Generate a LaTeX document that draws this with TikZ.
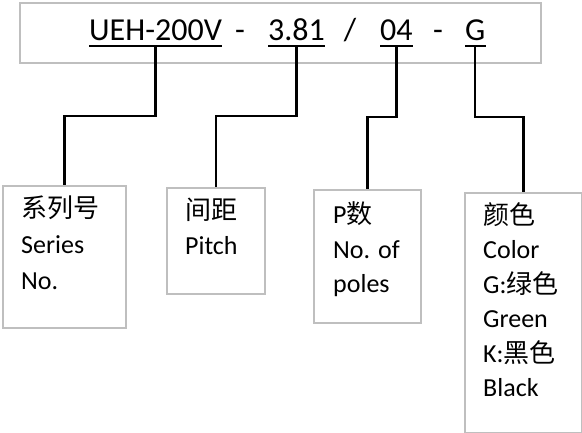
\documentclass[tikz,border=0pt]{standalone}
\usepackage{fontspec}
\setmainfont{Carlito}
\newfontfamily\cjk{Noto Sans CJK SC}
\usepackage{tikz}
\definecolor{boxgray}{HTML}{BFBFBF}
\tikzset{
	codebox/.style={draw=boxgray, line width=1.8pt, rectangle, inner sep=0pt, anchor=north west},
	codepart/.style={inner xsep=0pt, inner ysep=5pt, text depth=0pt, anchor=base west, font=\fontsize{32}{38}\selectfont},
	codesep/.style={inner sep=0pt, anchor=base, font=\fontsize{32}{38}\selectfont},
	boxtext/.style={inner sep=0pt, anchor=base west, font=\fontsize{26}{34.5}\selectfont},
	connector/.style={line width=2.2pt},
	uline/.style={line width=2pt}
}

\begin{document}
\begin{tikzpicture}[x=1pt, y=-1pt]
			%%%%% START %%%%%
			\useasboundingbox (0, 0) rectangle (582, 433);
			
			\node[codebox, minimum width=521pt, minimum height=60pt] (code) at (19, 2) {};
			
			\node[codepart] (ueh) at (89, 41) {UEH-200V};
			\node[codesep] (dasha) at (240, 41) {-};
			\node[codepart] (pitchno) at (268, 41) {3.81};
			\node[codesep] (slash) at (350, 41) {/};
			\node[codepart] (polesno) at (380, 41) {04};
			\node[codesep] (dashb) at (438, 41) {-};
			\node[codepart] (colorno) at (465, 41) {G};
			
			\foreach \p in {ueh, pitchno, polesno, colorno}
				\draw[uline] (\p.south west) -- (\p.south east);
			
			\node[codebox, minimum width=123pt, minimum height=142pt] (seriesbox) at (2, 185) {};
			\node[codebox, minimum width=98pt, minimum height=106pt] (pitchbox) at (166, 187) {};
			\node[codebox, minimum width=107pt, minimum height=133pt] (polesbox) at (313, 189) {};
			\node[codebox, minimum width=117pt, minimum height=240pt] (colorbox) at (464, 192) {};
			
			\node[boxtext, font=\fontsize{26}{36}\selectfont] (seriestext) at (21, 218)
				{\begin{tabular}[t]{@{}l@{}}{\cjk 系列号}\\Series\\No.\end{tabular}};
			\node[boxtext] (pitchtext) at (185, 220)
				{\begin{tabular}[t]{@{}l@{}}{\cjk 间距}\\Pitch\end{tabular}};
			\node[boxtext] (polestext) at (333, 224)
				{\begin{tabular}[t]{@{}l@{}}P{\cjk 数}\\No. of\\poles\end{tabular}};
			\node[boxtext] (colortext) at (483, 224.5)
				{\begin{tabular}[t]{@{}l@{}}{\cjk 颜色}\\Color\\G:{\cjk 绿色}\\Green\\K:{\cjk 黑色}\\Black\end{tabular}};
			
			\draw[connector] (ueh.south) -- ++(0, 70) -| (seriesbox.north);
			\draw[connector] (pitchno.south) -- ++(0, 70) -| (pitchbox.north);
			\draw[connector] (polesno.south) -- ++(0, 71) -| (polesbox.north);
			\draw[connector] (colorno.south) -- ++(0, 71) -| (colorbox.north);
			
			%%%%% END %%%%%
\end{tikzpicture}
\end{document}
